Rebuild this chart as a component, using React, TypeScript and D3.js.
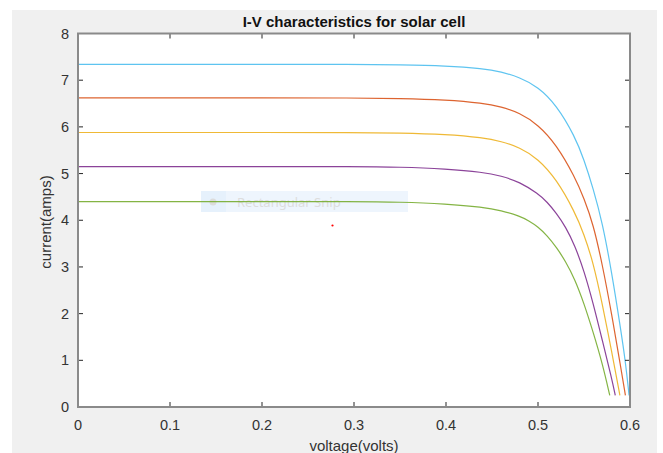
import React from 'react';
import * as d3 from 'd3';

// voltage (V) and current (A) readings for each curve, brightest first
const voltBlue = [0, 0.1, 0.2, 0.3, 0.35, 0.4, 0.44, 0.46, 0.48, 0.5, 0.52, 0.54, 0.55, 0.56, 0.57, 0.58, 0.59, 0.595, 0.599];
const ampBlue = [7.34, 7.34, 7.34, 7.34, 7.33, 7.31, 7.25, 7.18, 7.06, 6.86, 6.47, 5.8, 5.3, 4.68, 3.95, 2.9, 1.65, 0.98, 0.25];

const voltOrange = [0, 0.1, 0.2, 0.3, 0.35, 0.4, 0.44, 0.46, 0.48, 0.5, 0.52, 0.54, 0.55, 0.56, 0.57, 0.58, 0.59, 0.595];
const ampOrange = [6.62, 6.62, 6.62, 6.62, 6.61, 6.58, 6.51, 6.43, 6.3, 6.05, 5.62, 4.93, 4.47, 3.92, 3.05, 2.0, 0.85, 0.25];

const voltYellow = [0, 0.1, 0.2, 0.3, 0.35, 0.4, 0.44, 0.46, 0.48, 0.5, 0.52, 0.54, 0.55, 0.56, 0.57, 0.58, 0.589];
const ampYellow = [5.88, 5.88, 5.88, 5.88, 5.87, 5.84, 5.77, 5.69, 5.56, 5.32, 4.88, 4.18, 3.7, 3.1, 2.2, 1.2, 0.25];

const voltPurple = [0, 0.1, 0.2, 0.3, 0.35, 0.4, 0.44, 0.46, 0.48, 0.5, 0.51, 0.52, 0.53, 0.54, 0.55, 0.56, 0.57, 0.58, 0.584];
const ampPurple = [5.15, 5.15, 5.15, 5.15, 5.14, 5.1, 5.03, 4.95, 4.82, 4.57, 4.39, 4.15, 3.86, 3.46, 2.92, 2.22, 1.42, 0.62, 0.25];

const voltGreen = [0, 0.1, 0.2, 0.3, 0.35, 0.4, 0.44, 0.46, 0.48, 0.49, 0.5, 0.51, 0.52, 0.53, 0.54, 0.55, 0.56, 0.57, 0.578];
const ampGreen = [4.4, 4.4, 4.4, 4.4, 4.39, 4.35, 4.28, 4.21, 4.09, 3.99, 3.86, 3.67, 3.42, 3.12, 2.74, 2.22, 1.6, 0.93, 0.25];

const xTicks = [0, 0.1, 0.2, 0.3, 0.4, 0.5, 0.6];
const yTicks = [0, 1, 2, 3, 4, 5, 6, 7, 8];

const seriesList = [
  { v: voltBlue, i: ampBlue, color: '#4DBEEE' },
  { v: voltOrange, i: ampOrange, color: '#D95319' },
  { v: voltYellow, i: ampYellow, color: '#EDB120' },
  { v: voltPurple, i: ampPurple, color: '#7E2F8E' },
  { v: voltGreen, i: ampGreen, color: '#77AC30' },
];

const App = () => {
  const width = 663;
  const height = 453;
  const plot = { left: 78, right: 630, top: 33.5, bottom: 407 };

  const xScale = d3.scaleLinear().domain([0, 0.6]).range([plot.left, plot.right]);
  const yScale = d3.scaleLinear().domain([0, 8]).range([plot.bottom, plot.top]);

  const line = d3
    .line<[number, number]>()
    .x(d => xScale(d[0]))
    .y(d => yScale(d[1]))
    .curve(d3.curveBasis);

  const font = 'Arial, "Liberation Sans", Helvetica, sans-serif';
  const tickLen = 5;

  return (
    <svg
      width={width}
      height={height}
      style={{ position: 'absolute', left: 0, top: 0, display: 'block', background: '#ffffff' }}
    >
      {/* figure background */}
      <rect x={12} y={10} width={645} height={443} fill="#f0f0f0" />
      {/* axes area */}
      <rect x={plot.left} y={plot.top} width={plot.right - plot.left} height={plot.bottom - plot.top} fill="#ffffff" />

      {/* leftover screen-snip overlay */}
      <rect x={201} y={191} width={207} height={21} fill="#eef5fd" />
      <rect x={201} y={191} width={25} height={21} fill="#e6f1fc" />
      <circle cx={213} cy={202} r={3.5} fill="#dcdcdc" />
      <text x={237} y={207} fontFamily='"Segoe UI", "Noto Sans", "DejaVu Sans", sans-serif' fontSize={13} fill="#dddddd">
        Rectangular Snip
      </text>

      {/* curves */}
      {seriesList.map((s, k) => (
        <path
          key={k}
          d={line(s.v.map((v, j) => [v, s.i[j]] as [number, number])) || ''}
          fill="none"
          stroke={s.color}
          strokeWidth={1.2}
          strokeOpacity={0.9}
        />
      ))}

      <circle cx={332.5} cy={225.5} r={1.1} fill="#ff0000" />

      {/* ticks on all four sides */}
      {xTicks.map(t => (
        <g key={'xt' + t} stroke="#262626" strokeWidth={1}>
          <line x1={xScale(t)} x2={xScale(t)} y1={plot.bottom} y2={plot.bottom - tickLen} />
          <line x1={xScale(t)} x2={xScale(t)} y1={plot.top} y2={plot.top + tickLen} />
        </g>
      ))}
      {yTicks.map(t => (
        <g key={'yt' + t} stroke="#262626" strokeWidth={1}>
          <line x1={plot.left} x2={plot.left + tickLen} y1={yScale(t)} y2={yScale(t)} />
          <line x1={plot.right} x2={plot.right - tickLen} y1={yScale(t)} y2={yScale(t)} />
        </g>
      ))}

      {/* axes box */}
      <rect
        x={plot.left}
        y={plot.top}
        width={plot.right - plot.left}
        height={plot.bottom - plot.top}
        fill="none"
        stroke="#8a8a8a"
        strokeWidth={2}
      />

      {/* tick labels */}
      {xTicks.map(t => (
        <text key={'xl' + t} x={xScale(t)} y={430} textAnchor="middle" fontFamily={font} fontSize={14.5} fill="#333333">
          {t === 0 ? '0' : d3.format('.1f')(t)}
        </text>
      ))}
      {yTicks.map(t => (
        <text key={'yl' + t} x={69} y={yScale(t) + 5} textAnchor="end" fontFamily={font} fontSize={14.5} fill="#333333">
          {t}
        </text>
      ))}

      {/* labels and title */}
      <text x={354} y={451} textAnchor="middle" fontFamily={font} fontSize={15} fill="#333333">
        voltage(volts)
      </text>
      <text
        transform={'translate(51,' + 222 + ') rotate(-90)'}
        textAnchor="middle"
        fontFamily={font}
        fontSize={15}
        fill="#333333"
      >
        current(amps)
      </text>
      <text x={354} y={27} textAnchor="middle" fontFamily={font} fontSize={15} fontWeight="bold" fill="#111111">
        I-V characteristics for solar cell
      </text>
    </svg>
  );
};

export default App;
